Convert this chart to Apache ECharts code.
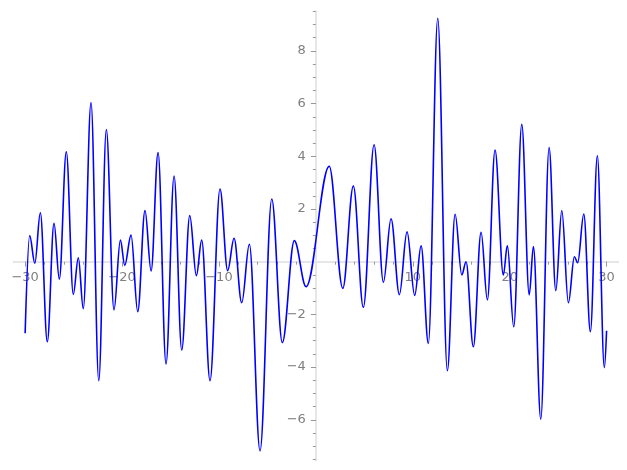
<!DOCTYPE html>
<html>
<head>
<meta charset="utf-8">
<script src="https://cdn.jsdelivr.net/npm/echarts@6/dist/echarts.min.js"></script>
<style>
  html, body { margin: 0; padding: 0; background: #fff; }
  #chart { width: 627px; height: 470px; }
</style>
</head>
<body>
<div id="chart"></div>
<script>
// local extrema of the curve
var xVals = [-30, -29.53, -29.0, -28.43, -27.71, -27.02, -26.47, -25.75, -25.03, -24.51,
  -24.0, -23.2, -22.4, -21.62, -20.83, -20.17, -19.72, -19.07, -18.38, -17.63,
  -17.0, -16.28, -15.46, -14.63, -13.84, -13.01, -12.33, -11.78, -10.92, -9.89,
  -9.1, -8.44, -7.65, -6.86, -5.76, -4.55, -3.46, -2.22, -1.01, 1.38,
  2.78, 3.87, 4.9, 6.01, 6.97, 7.76, 8.62, 9.41, 10.2, 10.86,
  11.61, 12.58, 13.57, 14.37, 15.06, 15.5, 16.25, 17.05, 17.7, 18.49,
  19.35, 19.76, 20.42, 21.25, 22.02, 22.45, 23.21, 24.07, 24.76, 25.38,
  26.06, 26.68, 27.02, 27.65, 28.33, 29.05, 29.77, 30]
var yVals = [-2.72, 0.99, -0.06, 1.86, -3.04, 1.46, -0.66, 4.17, -1.24, 0.15,
  -1.78, 6.04, -4.52, 5.02, -1.83, 0.82, -0.14, 1.01, -1.9, 1.94,
  -0.35, 4.14, -3.88, 3.25, -3.35, 1.75, -0.53, 0.82, -4.52, 2.76,
  -0.34, 0.89, -1.56, 0.66, -7.18, 2.38, -3.07, 0.8, -0.95, 3.62,
  -1.01, 2.87, -1.73, 4.44, -0.78, 1.63, -1.25, 1.13, -1.28, 0.6,
  -3.1, 9.24, -4.14, 1.8, -0.5, 0.0, -3.23, 1.12, -1.45, 4.24,
  -0.5, 0.61, -2.47, 5.21, -1.26, 0.57, -5.98, 4.33, -1.1, 1.94,
  -1.56, 0.19, -0.04, 1.81, -2.66, 4.02, -4.02, -2.62]

var xLabels = [-30, -20, -10, 10, 20, 30]
var xMinorTicks = [-30, -28, -26, -24, -22, -20, -18, -16, -14, -12, -10, -8, -6, -4, -2,
  2, 4, 6, 8, 10, 12, 14, 16, 18, 20, 22, 24, 26, 28, 30]
var yLabels = [-6, -4, -2, 2, 4, 6, 8]
var yMinorTicks = [-7.5, -7, -6.5, -6, -5.5, -5, -4.5, -4, -3.5, -3, -2.5, -2, -1.5, -1, -0.5,
  0.5, 1, 1.5, 2, 2.5, 3, 3.5, 4, 4.5, 5, 5.5, 6, 6.5, 7, 7.5, 8, 8.5, 9, 9.5]

var points = []
for (var i = 0; i < xVals.length; i++) {
  points.push([xVals[i], yVals[i]])
}

function minus(v) {
  return String(v).replace('-', '\u2212')
}

// grid box and axis ranges
var W = 627, H = 470
var gLeft = 13.5, gRight = 8.8, gTop = 11.4, gBottom = 9.4
var xMin = -31.2, xMax = 31.2, yMin = -7.55, yMax = 9.5

// move the axes in from the grid edges so they cross at the origin
var gW = W - gLeft - gRight
var gH = H - gTop - gBottom
var xAxisOffset = -(gH * (0 - yMin) / (yMax - yMin))
var yAxisOffset = -(gW * (0 - xMin) / (xMax - xMin))

var labelStyle = {
  color: '#808080',
  fontSize: 13,
  fontFamily: 'DejaVu Sans'
}

var chart = echarts.init(document.getElementById('chart'), null, { renderer: 'canvas' })
chart.setOption({
  animation: false,
  grid: {
    left: gLeft,
    right: gRight,
    top: gTop,
    bottom: gBottom,
    containLabel: false,
    outerBoundsMode: 'none'
  },
  xAxis: [{
    type: 'value',
    min: xMin,
    max: xMax,
    position: 'bottom',
    offset: xAxisOffset,
    axisLine: { onZero: false, lineStyle: { color: '#e6e6e6', width: 2 } },
    axisTick: { customValues: xLabels, length: 5, lineStyle: { color: '#999' } },
    axisLabel: Object.assign({ customValues: xLabels, margin: 9, formatter: minus }, labelStyle),
    splitLine: { show: false }
  }, {
    type: 'value',
    min: xMin,
    max: xMax,
    position: 'bottom',
    offset: xAxisOffset,
    axisLine: { show: false, onZero: false },
    axisTick: { customValues: xMinorTicks, length: 3, lineStyle: { color: '#999' } },
    axisLabel: { show: false },
    splitLine: { show: false }
  }],
  yAxis: [{
    type: 'value',
    min: yMin,
    max: yMax,
    position: 'left',
    offset: yAxisOffset,
    axisLine: { onZero: false, lineStyle: { color: '#e6e6e6', width: 2 } },
    axisTick: { customValues: yLabels, length: 5, lineStyle: { color: '#999' } },
    axisLabel: Object.assign({ customValues: yLabels, margin: 10, formatter: minus }, labelStyle),
    splitLine: { show: false }
  }, {
    type: 'value',
    min: yMin,
    max: yMax,
    position: 'left',
    offset: yAxisOffset,
    axisLine: { show: false, onZero: false },
    axisTick: { customValues: yMinorTicks, length: 3, lineStyle: { color: '#999' } },
    axisLabel: { show: false },
    splitLine: { show: false }
  }],
  series: [{
    type: 'line',
    xAxisIndex: 0,
    yAxisIndex: 0,
    data: points,
    smooth: 0.36,
    smoothMonotone: 'x',
    showSymbol: false,
    lineStyle: { color: '#0000ff', width: 1.6 },
    z: 5
  }]
})
</script>
</body>
</html>
